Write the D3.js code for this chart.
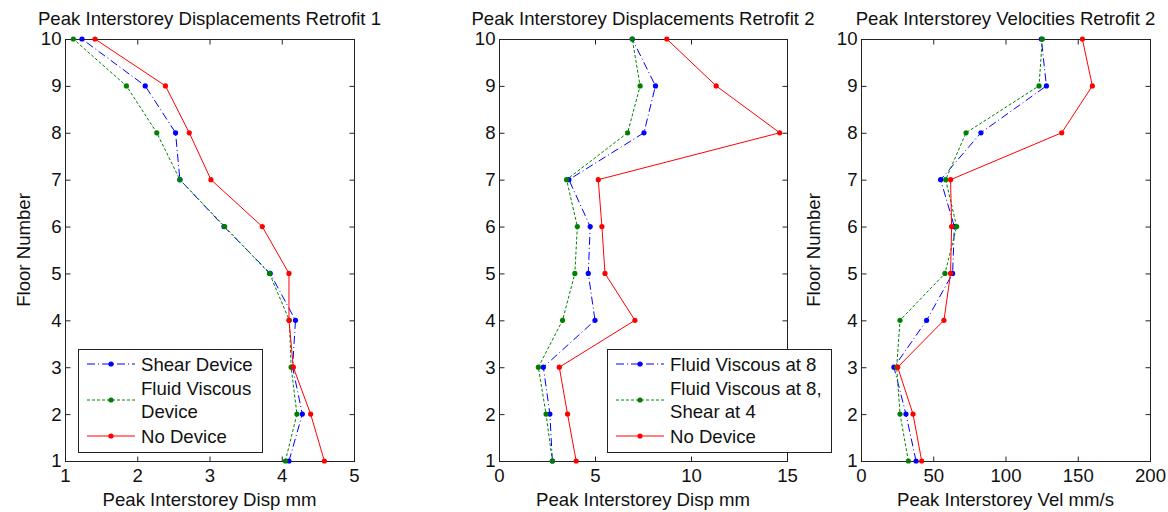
<!DOCTYPE html>
<html lang="en"><head><meta charset="utf-8">
<title>Peak Interstorey Response</title>
<script type="text/javascript" src="https://cdn.jsdelivr.net/npm/d3@7"></script>
<style>
  body { margin: 0; background: #fff; }
  text { font-family: "Liberation Sans", Arial, sans-serif; fill: #111; }
</style>
</head>
<body>
<script type="text/javascript">
// values, floor 1 .. 10
var floors = [1, 2, 3, 4, 5, 6, 7, 8, 9, 10];

var dispR1Shear = [4.10, 4.285, 4.15, 4.19, 3.84, 3.20, 2.59, 2.53, 2.11, 1.235];
var dispR1Fluid = [4.05, 4.21, 4.13, 4.105, 3.83, 3.21, 2.59, 2.27, 1.85, 1.115];
var dispR1None  = [4.59, 4.40, 4.16, 4.10, 4.10, 3.73, 3.02, 2.72, 2.39, 1.415];

var dispR2Fluid8      = [2.78, 2.65, 2.31, 5.00, 4.65, 4.75, 3.64, 7.55, 8.15, 6.94];
var dispR2Fluid8Shear = [2.78, 2.45, 2.05, 3.31, 3.95, 4.08, 3.52, 6.70, 7.35, 6.94];
var dispR2None        = [4.02, 3.57, 3.14, 7.08, 5.52, 5.36, 5.17, 14.62, 11.31, 8.74];

var velR2Fluid8      = [38.1, 31.1, 22.8, 45.4, 63.4, 64.6, 55.1, 83.0, 128.3, 124.8];
var velR2Fluid8Shear = [32.8, 27.0, 24.7, 27.0, 58.1, 66.2, 58.6, 72.7, 123.2, 125.5];
var velR2None        = [42.0, 36.0, 25.4, 57.4, 62.0, 62.7, 62.0, 138.9, 160.1, 153.2];

var ticksR1  = [1, 2, 3, 4, 5];
var ticksR2  = [0, 5, 10, 15];
var ticksVel = [0, 50, 100, 150, 200];

var legendR1 = [["Shear Device"], ["Fluid Viscous", "Device"], ["No Device"]];
var legendR2 = [["Fluid Viscous at 8"], ["Fluid Viscous at 8,", "Shear at 4"], ["No Device"]];

var styles = [
  { color: "#0000ff", dash: "8,3,1,3" },
  { color: "#008000", dash: "3,2" },
  { color: "#ff0000", dash: null }
];

var width = 1168, height = 512;
var plotTop = 39, plotBottom = 461;
var fontSize = 18.6;

var panels = [
  { left: 65, right: 354, domain: [1, 5], ticks: ticksR1,
    title: "Peak Interstorey Displacements Retrofit 1",
    xlabel: "Peak Interstorey Disp mm", ylabel: "Floor Number", ylabelX: 30,
    series: [dispR1Shear, dispR1Fluid, dispR1None],
    legend: legendR1, legendBox: [78, 349, 452] },
  { left: 499, right: 787, domain: [0, 15], ticks: ticksR2,
    title: "Peak Interstorey Displacements Retrofit 2",
    xlabel: "Peak Interstorey Disp mm", ylabel: null,
    series: [dispR2Fluid8, dispR2Fluid8Shear, dispR2None],
    legend: legendR2, legendBox: [607, 349, 452] },
  { left: 861, right: 1150, domain: [0, 200], ticks: ticksVel,
    title: "Peak Interstorey Velocities Retrofit 2",
    xlabel: "Peak Interstorey Vel mm/s", ylabel: "Floor Number", ylabelX: 820,
    series: [velR2Fluid8, velR2Fluid8Shear, velR2None],
    legend: null }
];

var svg = d3.select("body").append("svg")
  .attr("width", width)
  .attr("height", height);

var y = d3.scaleLinear().domain([1, 10]).range([plotBottom, plotTop]);

panels.forEach(function(p) {
  var x = d3.scaleLinear().domain(p.domain).range([p.left, p.right]);
  var g = svg.append("g");

  // box
  g.append("rect")
    .attr("x", p.left + 0.5).attr("y", plotTop + 0.5)
    .attr("width", p.right - p.left).attr("height", plotBottom - plotTop)
    .attr("fill", "none").attr("stroke", "#222");

  var xb = g.append("g").attr("transform", "translate(0," + (plotBottom + 0.5) + ")")
    .call(d3.axisBottom(x).tickValues(p.ticks).tickSize(-5).tickPadding(7).tickFormat(d3.format("d")));
  var xt = g.append("g").attr("transform", "translate(0," + (plotTop + 0.5) + ")")
    .call(d3.axisTop(x).tickValues(p.ticks).tickSize(-5).tickFormat(""));
  var yl = g.append("g").attr("transform", "translate(" + (p.left + 0.5) + ",0)")
    .call(d3.axisLeft(y).tickValues(floors).tickSize(-5).tickPadding(4).tickFormat(d3.format("d")));
  var yr = g.append("g").attr("transform", "translate(" + (p.right + 0.5) + ",0)")
    .call(d3.axisRight(y).tickValues(floors).tickSize(-5).tickFormat(""));

  [xb, xt, yl, yr].forEach(function(a) {
    a.select(".domain").remove();
    a.selectAll("line").attr("stroke", "#222");
    a.selectAll("text").attr("font-size", fontSize).attr("fill", "#111")
      .style("font-family", "'Liberation Sans', Arial, sans-serif");
  });

  g.append("text")
    .attr("x", (p.left + p.right) / 2).attr("y", 24.5)
    .attr("text-anchor", "middle").attr("font-size", fontSize)
    .text(p.title);

  g.append("text")
    .attr("x", (p.left + p.right) / 2).attr("y", 506)
    .attr("text-anchor", "middle").attr("font-size", fontSize)
    .text(p.xlabel);

  if (p.ylabel) {
    g.append("text")
      .attr("transform", "translate(" + p.ylabelX + "," + ((plotTop + plotBottom) / 2) + ") rotate(-90)")
      .attr("text-anchor", "middle").attr("font-size", fontSize)
      .text(p.ylabel);
  }

  var line = d3.line()
    .x(function(d) { return x(d[0]); })
    .y(function(d) { return y(d[1]); });

  p.series.forEach(function(vals, i) {
    var pts = vals.map(function(v, k) { return [v, floors[k]]; });
    g.append("path")
      .datum(pts)
      .attr("d", line)
      .attr("fill", "none")
      .attr("stroke", styles[i].color)
      .attr("stroke-width", 1)
      .attr("stroke-dasharray", styles[i].dash);
    g.selectAll(".m" + i)
      .data(pts)
      .enter().append("circle")
      .attr("class", "m" + i)
      .attr("cx", function(d) { return x(d[0]); })
      .attr("cy", function(d) { return y(d[1]); })
      .attr("r", 2.6)
      .attr("fill", styles[i].color);
  });

  if (p.legend) {
    var b = p.legendBox;
    var lg = g.append("g");
    var box = lg.append("rect")
      .attr("x", b[0] + 0.5).attr("y", b[1] + 0.5)
      .attr("height", b[2] - b[1])
      .attr("fill", "#fff").attr("stroke", "#222");
    var rowY = [364, 400, 436];
    var maxRight = 0;
    p.legend.forEach(function(lines, i) {
      var cy = rowY[i];
      var x0 = b[0] + 9, x1 = b[0] + 57;
      lg.append("line")
        .attr("x1", x0).attr("x2", x1).attr("y1", cy).attr("y2", cy)
        .attr("stroke", styles[i].color)
        .attr("stroke-dasharray", styles[i].dash);
      lg.append("circle")
        .attr("cx", (x0 + x1) / 2).attr("cy", cy).attr("r", 2.6)
        .attr("fill", styles[i].color);
      lines.forEach(function(t, k) {
        var tx = lg.append("text")
          .attr("x", b[0] + 63)
          .attr("y", cy + (k - (lines.length - 1) / 2) * 22.5)
          .attr("dy", "0.35em")
          .attr("font-size", fontSize)
          .text(t);
        var bb = tx.node().getBBox();
        maxRight = Math.max(maxRight, bb.x + bb.width);
      });
    });
    box.attr("width", Math.round(maxRight + 9 - b[0]));
  }
});
</script>
</body></html>
